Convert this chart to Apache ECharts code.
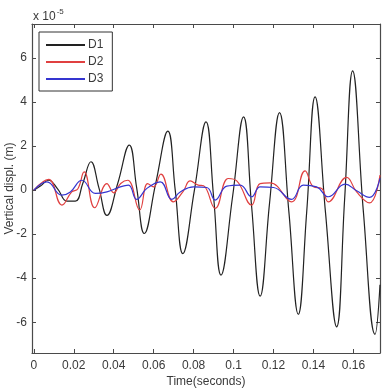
<!DOCTYPE html>
<html>
<head>
<meta charset="utf-8">
<script src="https://cdn.jsdelivr.net/npm/echarts@6/dist/echarts.min.js"></script>
<style>
  html, body { margin: 0; padding: 0; background: #fff; }
  #chart { width: 386px; height: 391px; }
</style>
</head>
<body>
<div id="chart"></div>
<script>
// values: [time (s), displacement (x 1e-5 m)]
const d1 = [
  [0, 0], [0.0035, 0.2], [0.0074, 0.45], [0.012, 0.05], [0.0166, -0.5], [0.0208, -0.5],
  [0.0245, 0.3], [0.0286, 1.29], [0.0326, 0.1], [0.0366, -1.15], [0.042, 0.3],
  [0.0478, 2.05], [0.0515, 0.1], [0.0553, -1.97], [0.061, 0.3], [0.0671, 2.68],
  [0.0708, 0.0], [0.0746, -2.88], [0.0804, 0.0], [0.0862, 3.1], [0.09, -0.3],
  [0.0937, -3.86], [0.0995, -0.3], [0.105, 3.33], [0.109, -0.7], [0.1133, -4.82],
  [0.118, -0.6], [0.123, 3.52], [0.1277, -1.0], [0.1324, -5.64], [0.1366, -1.0],
  [0.1408, 4.24], [0.146, -1.0], [0.1516, -6.21], [0.1556, -0.4], [0.1596, 5.42],
  [0.165, -1.0], [0.1708, -6.55], [0.1733, -4.3]
];
const d2 = [
  [0, 0], [0.0074, 0.49], [0.0141, -0.68], [0.019, -0.08], [0.022, 0.05], [0.0252, 0.83],
  [0.0305, -0.8], [0.0366, 0.3], [0.040, -0.12], [0.0435, 0.3], [0.047, 0.45],
  [0.053, -0.9], [0.057, 0.3], [0.060, 0.15], [0.0636, 0.73], [0.0699, -0.53],
  [0.0748, -0.05], [0.0783, 0.42], [0.0823, 0.23], [0.085, 0.2], [0.0908, -0.83],
  [0.0974, 0.53], [0.1016, 0.42], [0.109, -0.68], [0.1133, 0.3], [0.1183, 0.33],
  [0.129, -0.53], [0.1358, 0.88], [0.14, 0.15], [0.1441, 0.08], [0.1474, -0.53],
  [0.1566, 0.58], [0.1616, -0.08], [0.168, -0.58], [0.1733, 0.68]
];
const d3 = [
  [0, 0], [0.0066, 0.38], [0.014, -0.23], [0.0183, -0.08], [0.0241, 0.45], [0.0308, -0.15],
  [0.0366, -0.08], [0.0433, 0.15], [0.0474, 0.23], [0.0515, -0.42], [0.0566, 0.08],
  [0.0633, 0.38], [0.0691, -0.42], [0.0733, -0.08], [0.080, 0.15], [0.0866, 0.12],
  [0.0908, -0.45], [0.0966, 0.18], [0.1033, 0.23], [0.109, -0.3], [0.1133, 0.15],
  [0.12, 0.12], [0.129, -0.42], [0.1349, 0.23], [0.1416, 0.15], [0.1474, -0.3],
  [0.1558, 0.27], [0.1616, -0.03], [0.168, -0.33], [0.1733, 0.53]
];
const seriesNames = ["D1", "D2", "D3"];
const xTicks = [0, 0.02, 0.04, 0.06, 0.08, 0.1, 0.12, 0.14, 0.16];
const yTicks = [-6, -4, -2, 0, 2, 4, 6];

const X_MIN = -0.0009, X_MAX = 0.1733, Y_MIN = -7.4, Y_MAX = 7.55;
const axisCol = "#4a4a4a";
const textCol = "#3a3a3a";
const font = "'Liberation Sans', Arial, sans-serif";

const chart = echarts.init(document.getElementById("chart"), null, { renderer: "canvas" });

const frameAxis = (extra) => ({
  type: "value",
  axisLine: { show: true, onZero: false, lineStyle: { color: axisCol, width: 1.2 } },
  splitLine: { show: false },
  ...extra,
});

chart.setOption({
  backgroundColor: "#fff",
  animation: false,
  textStyle: { fontFamily: font },
  title: {
    text: "{a|x 10}{b|-5}",
    left: 28,
    top: 3,
    textStyle: {
      fontWeight: "normal",
      rich: {
        a: { fontSize: 12, color: textCol, fontFamily: font, fontWeight: "normal" },
        b: { fontSize: 8, color: textCol, fontFamily: font, fontWeight: "normal", padding: [0, 0, 10, 1] },
      },
    },
  },
  grid: { left: 32, right: 6, top: 24, bottom: 38, containLabel: false, outerBoundsMode: "none" },
  legend: {
    data: seriesNames,
    orient: "vertical",
    left: 39,
    top: 32,
    padding: [7, 9, 6, 7],
    itemGap: 5,
    itemWidth: 39,
    itemHeight: 2,
    icon: "rect",
    borderColor: "#333",
    borderWidth: 1,
    borderRadius: 0,
    backgroundColor: "#fff",
    textStyle: { fontSize: 12, color: textCol, fontFamily: font, padding: [0, 0, 0, -2] },
  },
  xAxis: [
    frameAxis({
      min: X_MIN, max: X_MAX,
      position: "bottom",
      name: "Time(seconds)",
      nameLocation: "middle",
      nameGap: 23,
      nameMoveOverlap: false,
      nameTextStyle: { fontSize: 12, color: textCol, fontFamily: font },
      axisTick: { inside: true, length: 4, customValues: xTicks, lineStyle: { color: axisCol } },
      axisLabel: { customValues: xTicks, fontSize: 12, color: textCol, margin: 7, formatter: (v) => String(+v.toFixed(2)) },
    }),
    frameAxis({
      min: X_MIN, max: X_MAX,
      position: "top",
      axisTick: { inside: true, length: 4, customValues: xTicks, lineStyle: { color: axisCol } },
      axisLabel: { show: false },
    }),
  ],
  yAxis: [
    frameAxis({
      min: Y_MIN, max: Y_MAX,
      position: "left",
      name: "Vertical displ. (m)",
      nameLocation: "middle",
      nameGap: 16,
      nameMoveOverlap: false,
      nameTextStyle: { fontSize: 12, color: textCol, fontFamily: font },
      axisTick: { inside: true, length: 4, customValues: yTicks, lineStyle: { color: axisCol } },
      axisLabel: { customValues: yTicks, fontSize: 12, color: textCol, margin: 5 },
    }),
    frameAxis({
      min: Y_MIN, max: Y_MAX,
      position: "right",
      axisTick: { inside: true, length: 4, customValues: yTicks, lineStyle: { color: axisCol } },
      axisLabel: { show: false },
    }),
  ],
  series: [
    { name: "D1", type: "line", data: d1, smooth: 0.45, symbol: "none", lineStyle: { color: "#222", width: 1.2 }, itemStyle: { color: "#222" } },
    { name: "D2", type: "line", data: d2, smooth: 0.45, symbol: "none", lineStyle: { color: "#e04040", width: 1.2 }, itemStyle: { color: "#e04040" } },
    { name: "D3", type: "line", data: d3, smooth: 0.45, symbol: "none", lineStyle: { color: "#3535d0", width: 1.2 }, itemStyle: { color: "#3535d0" } },
  ],
});
</script>
</body>
</html>
